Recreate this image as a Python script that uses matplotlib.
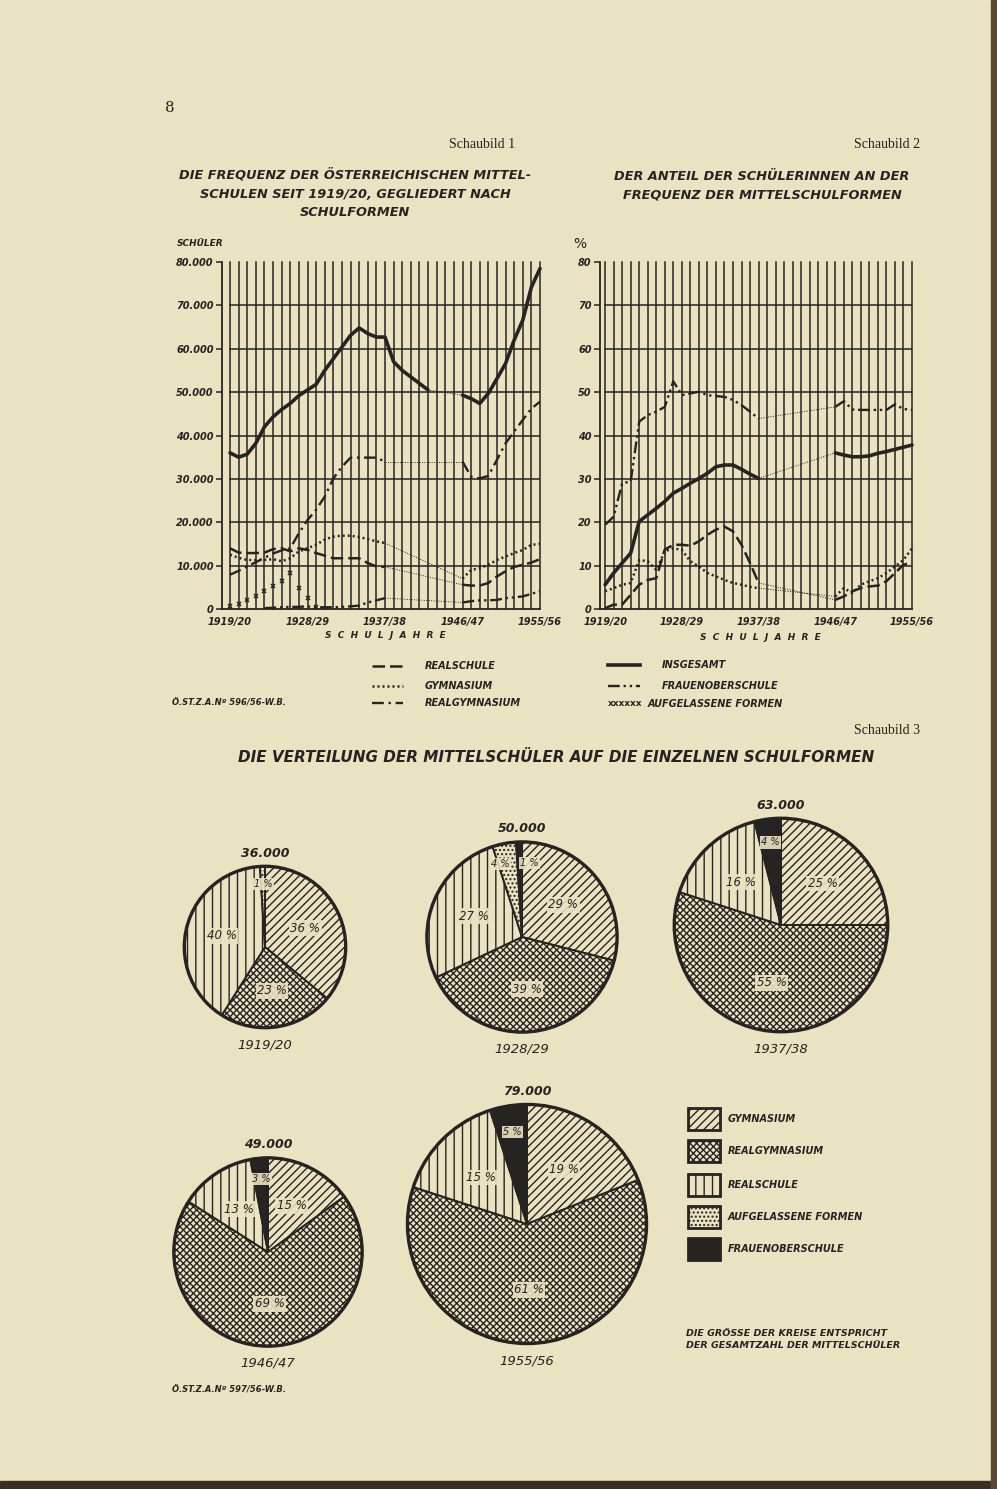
import numpy as np
import matplotlib
matplotlib.use("Agg")
import matplotlib.pyplot as plt
from matplotlib.lines import Line2D
from matplotlib.patches import Rectangle

# ---------------- data ----------------
nan = np.nan
years = list(range(1919, 1956))            # school year start 1919 .. 1955
year_ticks = ["1919/20", "1928/29", "1937/38", "1946/47", "1955/56"]
year_tick_idx = [0, 9, 18, 27, 36]

# Schaubild 1 : pupils (thousands)
c1_insgesamt = [36, 35, 35.7, 38.2, 42, 44.3, 46, 47.4, 49.2, 50.5, 51.8, 55, 57.7, 60.4, 63.1, 64.8,
                63.5, 62.7, 62.7, 57, 55, 53.5, 52, 50.5, nan, nan, nan,
                49.3, 48.5, 47.4, 49.7, 53.1, 56.6, 62, 66.6, 74.2, 78.5]
c1_realgymnasium = [7.9, 8.8, 9.8, 10.8, 11.8, 12.8, 13.5, 14.0, 17.5, 20.5, 22.9, 25.9, 30.1, 32.8, 34.9,
                    34.9, 34.9, 34.9, 34.0, nan, nan, nan, nan, nan, nan, nan, nan,
                    34.0, 30.5, 30.1, 30.7, 34.4, 38.2, 40.9, 43.6, 46.2, 47.8]
c1_gymnasium = [12.5, 11.8, 11.3, 11.3, 11.3, 11.5, 11.0, 11.7, 13.3, 14.0, 14.8, 16.0, 16.7, 16.9, 16.9,
                16.6, 16.1, 15.6, 15.2, nan, nan, nan, nan, nan, nan, nan, nan,
                7.0, 9.0, 9.4, 10.2, 11.3, 12.1, 12.9, 13.6, 14.8, 15.0]
c1_realschule = [14, 13, 12.9, 12.9, 13, 13.8, 14, 13.3, 14, 13.6, 12.9, 12.3, 11.7, 11.7, 11.7,
                 11.7, 10.6, 9.8, 9.7, nan, nan, nan, nan, nan, nan, nan, nan,
                 5.6, 5.4, 5.4, 6.0, 7.5, 8.7, 9.7, 10.2, 10.7, 11.5]
c1_frauenober = [nan, nan, nan, nan, 0.2, 0.3, 0.4, 0.5, 0.5, 0.6, 0.4, 0.4, 0.4, 0.5, 0.6,
                 0.8, 1.5, 2.0, 2.5, nan, nan, nan, nan, nan, nan, nan, nan,
                 1.5, 1.8, 2.0, 2.0, 2.1, 2.5, 2.7, 2.9, 3.5, 4.1]
c1_aufgelassen = [0.6, 1.2, 2.0, 2.9, 4.1, 5.2, 6.4, 8.3, 4.8, 2.5, 0.5] + [nan] * 26

# Schaubild 2 : share of girls (%)
c2_insgesamt = [5.6, 8.3, 10.6, 12.9, 20.2, 21.7, 23.2, 24.8, 26.7, 27.8, 29.0, 30.1, 31.3, 32.8, 33.2,
                33.2, 32.2, 31.1, 30.1, nan, nan, nan, nan, nan, nan, nan, nan,
                36.0, 35.5, 35.1, 35.1, 35.3, 35.9, 36.3, 36.8, 37.3, 37.8]
c2_frauenober = [19.4, 21.3, 29.0, 29.4, 43.2, 44.7, 45.5, 46.6, 52.5, 49.3, 49.7, 50.1, 49.3, 49.1, 48.9,
                 48.2, 47.0, 45.5, 43.9, nan, nan, nan, nan, nan, nan, nan, nan,
                 46.6, 47.9, 46.0, 45.9, 45.9, 45.9, 45.9, 47.2, 46.1, 45.9]
c2_realschule = [0.2, 1.0, 1.0, 3.3, 5.6, 6.7, 7.1, 13.7, 14.8, 14.8, 14.6, 15.6, 17.1, 18.3, 19.0,
                 17.9, 14.8, 10.6, 6.0, nan, nan, nan, nan, nan, nan, nan, nan,
                 2.1, 2.9, 4.1, 4.8, 5.2, 5.4, 6.4, 8.3, 10.2, 10.7]
c2_gymnasium = [4.1, 4.8, 5.6, 6.0, 11.3, 11.0, 9.0, 13.3, 14.0, 13.6, 11.0, 9.8, 8.3, 7.5, 6.7,
                6.0, 5.6, 5.1, 4.8, nan, nan, nan, nan, nan, nan, nan, nan,
                2.9, 4.8, 3.7, 5.6, 6.4, 7.1, 8.3, 9.8, 11.3, 14.0]

# Schaubild 3 : pies
pie_years = ["1919/20", "1928/29", "1937/38", "1946/47", "1955/56"]
pie_totals = [36000, 50000, 63000, 49000, 79000]
pie_forms = ["GYMNASIUM", "REALGYMNASIUM", "REALSCHULE", "AUFGELASSENE FORMEN", "FRAUENOBERSCHULE"]
pie_gymnasium = [36, 29, 25, 15, 19]
pie_realgymnasium = [23, 39, 55, 69, 61]
pie_realschule = [40, 27, 16, 13, 15]
pie_aufgelassen = [1, 4, 0, 0, 0]
pie_frauenober = [0, 1, 4, 3, 5]

# ---------------- style ----------------
W, H = 997, 1489
PAPER = "#eae3c1"
INK = "#262422"
plt.rcParams["font.family"] = ["DejaVu Sans"]
plt.rcParams["hatch.color"] = INK
plt.rcParams["hatch.linewidth"] = 1.0

fig = plt.figure(figsize=(W / 100, H / 100), dpi=100)
fig.patch.set_facecolor(PAPER)

def fx(x):
    return x / W

def fy(y):
    return 1 - y / H

def ftext(x, y, s, size=8, ha="center", va="center", style="italic", weight="bold", family=None, **kw):
    fig.text(fx(x), fy(y), s, fontsize=size, ha=ha, va=va, style=style, weight=weight,
             family=family or "DejaVu Sans", color=INK, **kw)

# scan edges
fig.add_artist(Rectangle((0, 0), 1, 8 / H, transform=fig.transFigure, color="#3a2f22", zorder=-1))
fig.add_artist(Rectangle((1 - 6 / W, 0), 6 / W, 1, transform=fig.transFigure, color="#5a4a35", zorder=-1))

# headings
ftext(170, 108, "8", size=11, style="normal", weight="normal", family="DejaVu Serif")
ftext(515, 145, "Schaubild 1", size=10, ha="right", style="normal", weight="normal", family="Liberation Serif")
ftext(920, 145, "Schaubild 2", size=10, ha="right", style="normal", weight="normal", family="Liberation Serif")
ftext(920, 730, "Schaubild 3", size=10, ha="right", style="normal", weight="normal", family="Liberation Serif")
for i, line in enumerate(["DIE FREQUENZ DER ÖSTERREICHISCHEN MITTEL-",
                          "SCHULEN SEIT 1919/20, GEGLIEDERT NACH", "SCHULFORMEN"]):
    ftext(355, 175 + 19 * i, line, size=9.3)
for i, line in enumerate(["DER ANTEIL DER SCHÜLERINNEN AN DER", "FREQUENZ DER MITTELSCHULFORMEN"]):
    ftext(762, 176 + 19 * i, line, size=9.3)
ftext(556, 757, "DIE VERTEILUNG DER MITTELSCHÜLER AUF DIE EINZELNEN SCHULFORMEN", size=11)

# ---------------- line charts ----------------
styles = {
    "ins": dict(color=INK, lw=2.6, ls="-"),
    "rg": dict(color=INK, lw=1.7, ls=(0, (5, 2, 1, 2))),
    "gym": dict(color=INK, lw=1.8, ls=(0, (0.8, 1.2))),
    "rs": dict(color=INK, lw=1.8, ls=(0, (5, 2))),
    "fo": dict(color=INK, lw=1.7, ls=(0, (5, 1.6, 1, 1.6, 1, 1.6))),
}

def draw_series(ax, vals, st):
    x = np.arange(len(vals))
    v = np.array(vals, dtype=float)
    ax.plot(x, v, solid_capstyle="round", clip_on=False, zorder=3, **st)
    ok = ~np.isnan(v)
    idx = np.where(ok)[0]
    for a, b in zip(idx[:-1], idx[1:]):
        if b - a > 1:
            ax.plot([a, b], [v[a], v[b]], color=INK, lw=0.7, ls=(0, (1, 1.5)), zorder=3)

def setup_axes(ax, left_off, ylabels):
    ax.set_facecolor("none")
    ax.set_xlim(left_off, 36)
    ax.set_ylim(0, 80)
    for k in range(37):
        ax.plot([k, k], [0, 80], color=INK, lw=1.1, zorder=1, clip_on=False)
    for yv in range(10, 80, 10):
        ax.plot([0, 36], [yv, yv], color=INK, lw=1.1, zorder=1)
    ax.plot([left_off, 36], [0, 0], color=INK, lw=1.3, clip_on=False, zorder=1)
    for s in ["top", "right", "bottom"]:
        ax.spines[s].set_visible(False)
    ax.spines["left"].set_color(INK)
    ax.spines["left"].set_linewidth(1.3)
    ax.set_yticks(range(0, 90, 10))
    ax.set_yticklabels(ylabels, fontsize=7, style="italic", weight="bold", color=INK)
    ax.tick_params(axis="y", length=4, width=1.1, color=INK, pad=2)
    ax.set_xticks(year_tick_idx)
    ax.set_xticklabels(year_ticks, fontsize=7, style="italic", weight="bold", color=INK)
    ax.tick_params(axis="x", length=0, pad=6)

ax1 = fig.add_axes([fx(222), fy(609), fx(540) - fx(222), fy(262) - fy(609)])
setup_axes(ax1, -0.93, ["0"] + [f"{v}.000" for v in range(10, 90, 10)])
draw_series(ax1, c1_aufgelassen, dict(color=INK, lw=0, marker="x", ms=3.0, mew=1.1))
draw_series(ax1, c1_frauenober, styles["fo"])
draw_series(ax1, c1_realschule, styles["rs"])
draw_series(ax1, c1_gymnasium, styles["gym"])
draw_series(ax1, c1_realgymnasium, styles["rg"])
draw_series(ax1, c1_insgesamt, styles["ins"])
ftext(200, 244, "SCHÜLER", size=6.5)
ftext(385, 636, "S  C  H  U  L  J  A  H  R  E", size=6.5)

ax2 = fig.add_axes([fx(600), fy(609), fx(912) - fx(600), fy(262) - fy(609)])
setup_axes(ax2, -0.6, [str(v) for v in range(0, 90, 10)])
draw_series(ax2, c2_gymnasium, styles["gym"])
draw_series(ax2, c2_realschule, styles["rs"])
draw_series(ax2, c2_frauenober, styles["fo"])
draw_series(ax2, c2_insgesamt, styles["ins"])
ftext(580, 244, "%", size=10, style="normal", weight="normal")
ftext(760, 638, "S  C  H  U  L  J  A  H  R  E", size=6.5)

# legend of line charts
leg_left = [("rs", "REALSCHULE", 666), ("gym", "GYMNASIUM", 686), ("rg", "REALGYMNASIUM", 703)]
for key, lab, y in leg_left:
    fig.add_artist(Line2D([fx(372), fx(403)], [fy(y), fy(y)], transform=fig.transFigure, **styles[key]))
    ftext(425, y, lab, size=7, ha="left")
leg_right = [("ins", "INSGESAMT", 665), ("fo", "FRAUENOBERSCHULE", 686)]
for key, lab, y in leg_right:
    fig.add_artist(Line2D([fx(608), fx(640)], [fy(y), fy(y)], transform=fig.transFigure, **styles[key]))
    ftext(662, y, lab, size=7, ha="left")
ftext(608, 704, "xxxxxx", size=6.5, ha="left", style="normal")
ftext(648, 704, "AUFGELASSENE FORMEN", size=7, ha="left")
ftext(172, 703, "Ö.ST.Z.A.Nº 596/56-W.B.", size=6, ha="left")

# ---------------- pies ----------------
hatches = ["////", "xxxxx", "||", "....", None]
faces = [PAPER, PAPER, PAPER, PAPER, INK]
centers = [(265, 947), (522, 937), (781, 925), (268, 1252), (527, 1224)]
S = 260.0
lim = 1.04
px_per_unit = S / 2 / lim
shares = list(zip(pie_gymnasium, pie_realgymnasium, pie_realschule, pie_aufgelassen, pie_frauenober))

for (cx, cy), total, yr, vals in zip(centers, pie_totals, pie_years, shares):
    ax = fig.add_axes([fx(cx - S / 2), fy(cy + S / 2), S / W, S / H])
    r_px = 13.45 * np.sqrt(total / 1000)
    r = r_px / px_per_unit
    keep = [i for i, v in enumerate(vals) if v > 0]
    wedges, _ = ax.pie([vals[i] for i in keep], radius=r, startangle=90, counterclock=False,
                       colors=[faces[i] for i in keep],
                       wedgeprops=dict(edgecolor=INK, linewidth=1.4))
    ax.set_xlim(-lim, lim)
    ax.set_ylim(-lim, lim)
    ax.set_aspect("equal")
    ax.axis("off")
    for w, i in zip(wedges, keep):
        if hatches[i]:
            w.set_hatch(hatches[i])
    ax.add_patch(plt.Circle((0, 0), r, fill=False, edgecolor=INK, lw=2.4, zorder=5))
    both_small = vals[3] > 0 and vals[4] > 0
    for w, i in zip(wedges, keep):
        ang = np.deg2rad((w.theta1 + w.theta2) / 2)
        small = vals[i] < 6
        d = 0.78 if small else 0.55
        tx, ty = d * r * np.cos(ang), d * r * np.sin(ang)
        if both_small and i == 3:
            tx -= 0.08 * r
        if both_small and i == 4:
            tx += 0.1 * r
        box = dict(boxstyle="square,pad=0.12", fc=PAPER, ec="none", alpha=0.9)
        ax.text(tx, ty, f"{vals[i]} %", fontsize=7 if small else 8.5, ha="center", va="center",
                style="italic", color=INK, bbox=box, zorder=6)
    ftext(cx, cy - r_px - 13, f"{total // 1000}.000", size=9)
    ftext(cx, cy + r_px + 17, yr, size=9.5, weight="normal")

# pie legend
for k, (lab, y) in enumerate(zip(pie_forms, [1119, 1151, 1185, 1217, 1249])):
    fig.add_artist(Rectangle((fx(688), fy(y + 11)), 32 / W, 22 / H, transform=fig.transFigure,
                             facecolor=faces[k], edgecolor=INK, lw=2, hatch=hatches[k]))
    ftext(728, y, lab, size=7, ha="left")
ftext(686, 1333, "DIE GRÖSSE DER KREISE ENTSPRICHT", size=6.8, ha="left")
ftext(686, 1345, "DER GESAMTZAHL DER MITTELSCHÜLER", size=6.8, ha="left")
ftext(172, 1390, "Ö.ST.Z.A.Nº 597/56-W.B.", size=6, ha="left")

fig.savefig("out.png", dpi=100, facecolor=fig.get_facecolor())
